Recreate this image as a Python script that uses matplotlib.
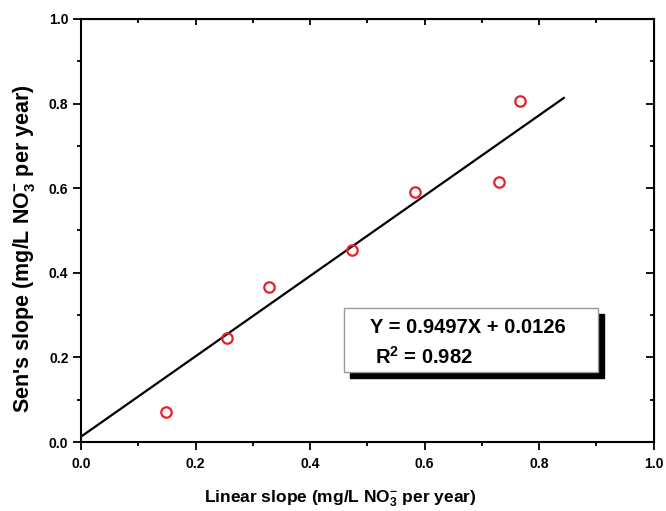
import numpy as np
import matplotlib
matplotlib.use("Agg")
import matplotlib.pyplot as plt
from matplotlib.patches import Rectangle
from matplotlib.ticker import MultipleLocator

plt.rcParams['font.family'] = ['Liberation Sans', 'DejaVu Sans']
plt.rcParams['font.weight'] = 'bold'
plt.rcParams['mathtext.fontset'] = 'custom'
plt.rcParams['mathtext.rm'] = 'Liberation Sans:bold'
plt.rcParams['mathtext.it'] = 'Liberation Sans:bold'
plt.rcParams['mathtext.bf'] = 'Liberation Sans:bold'

# linear slope vs Sen's slope (mg/L NO3- per year)
linear_slope = [0.149, 0.255, 0.328, 0.474, 0.584, 0.729, 0.767]
sens_slope = [0.070, 0.245, 0.366, 0.454, 0.591, 0.615, 0.806]

# regression line
fit_a = 0.9497
fit_b = 0.0126
fit_x = [0.0, 0.843]
fit_text = "Y = 0.9497X + 0.0126"
r2_text = "R$^2$ = 0.982"

fig = plt.figure(figsize=(6.66, 5.11), dpi=100)
ax = fig.add_axes([0.1216, 0.135, 0.860, 0.828])

fx = np.array(fit_x)
ax.plot(fx, fit_a * fx + fit_b, color='black', lw=1.6, zorder=2)
ax.plot(linear_slope, sens_slope, 'o', mfc='none', mec='#e8202a', ms=7.5, mew=1.6, zorder=3)

ax.set_xlim(0, 1.0)
ax.set_ylim(0, 1.0)
ax.xaxis.set_major_locator(MultipleLocator(0.2))
ax.xaxis.set_minor_locator(MultipleLocator(0.1))
ax.yaxis.set_major_locator(MultipleLocator(0.2))
ax.yaxis.set_minor_locator(MultipleLocator(0.1))
ax.xaxis.set_major_formatter(lambda v, p: f"{v:.1f}")
ax.yaxis.set_major_formatter(lambda v, p: f"{v:.1f}")
ax.tick_params(which='major', direction='out', length=6, width=1.3, labelsize=10, pad=3)
ax.tick_params(which='minor', direction='out', length=3, width=1.3)
ax.tick_params(axis='x', which='major', pad=5)
for s in ax.spines.values():
    s.set_linewidth(1.5)

top = ax.secondary_xaxis('top')
top.xaxis.set_major_locator(MultipleLocator(0.2))
top.xaxis.set_minor_locator(MultipleLocator(0.1))
top.tick_params(which='major', direction='in', length=4, width=1.3, labeltop=False)
top.tick_params(which='minor', direction='in', length=3, width=1.3)
right = ax.secondary_yaxis('right')
right.yaxis.set_major_locator(MultipleLocator(0.2))
right.yaxis.set_minor_locator(MultipleLocator(0.1))
right.tick_params(which='major', direction='in', length=6, width=1.3, labelright=False)
right.tick_params(which='minor', direction='in', length=3, width=1.3)

ax.set_xlabel("Linear slope (mg/L NO$_3^{-}$ per year)", fontsize=12.5, fontweight='bold')
ax.set_ylabel("Sen's slope (mg/L NO$_3^{-}$ per year)", fontsize=15.5, fontweight='bold')
ax.xaxis.set_label_coords(0.452, -0.11)
ax.yaxis.set_label_coords(-0.076, 0.456)

# text box with drop shadow
bx, by, bw, bh = 0.459, 0.165, 0.443, 0.152
ax.add_patch(Rectangle((bx + 0.011, by - 0.014), bw, bh, transform=ax.transAxes,
                       facecolor='black', edgecolor='black', zorder=4))
ax.add_patch(Rectangle((bx, by), bw, bh, transform=ax.transAxes,
                       facecolor='white', edgecolor='#999999', lw=1.0, zorder=5))
ax.text(bx + 0.045, by + 0.105, fit_text, transform=ax.transAxes, fontsize=14.5,
        fontweight='bold', va='center', ha='left', zorder=6)
ax.text(bx + 0.054, by + 0.037, r2_text, transform=ax.transAxes, fontsize=14.5,
        fontweight='bold', va='center', ha='left', zorder=6)

fig.savefig("out.png", dpi=100)
